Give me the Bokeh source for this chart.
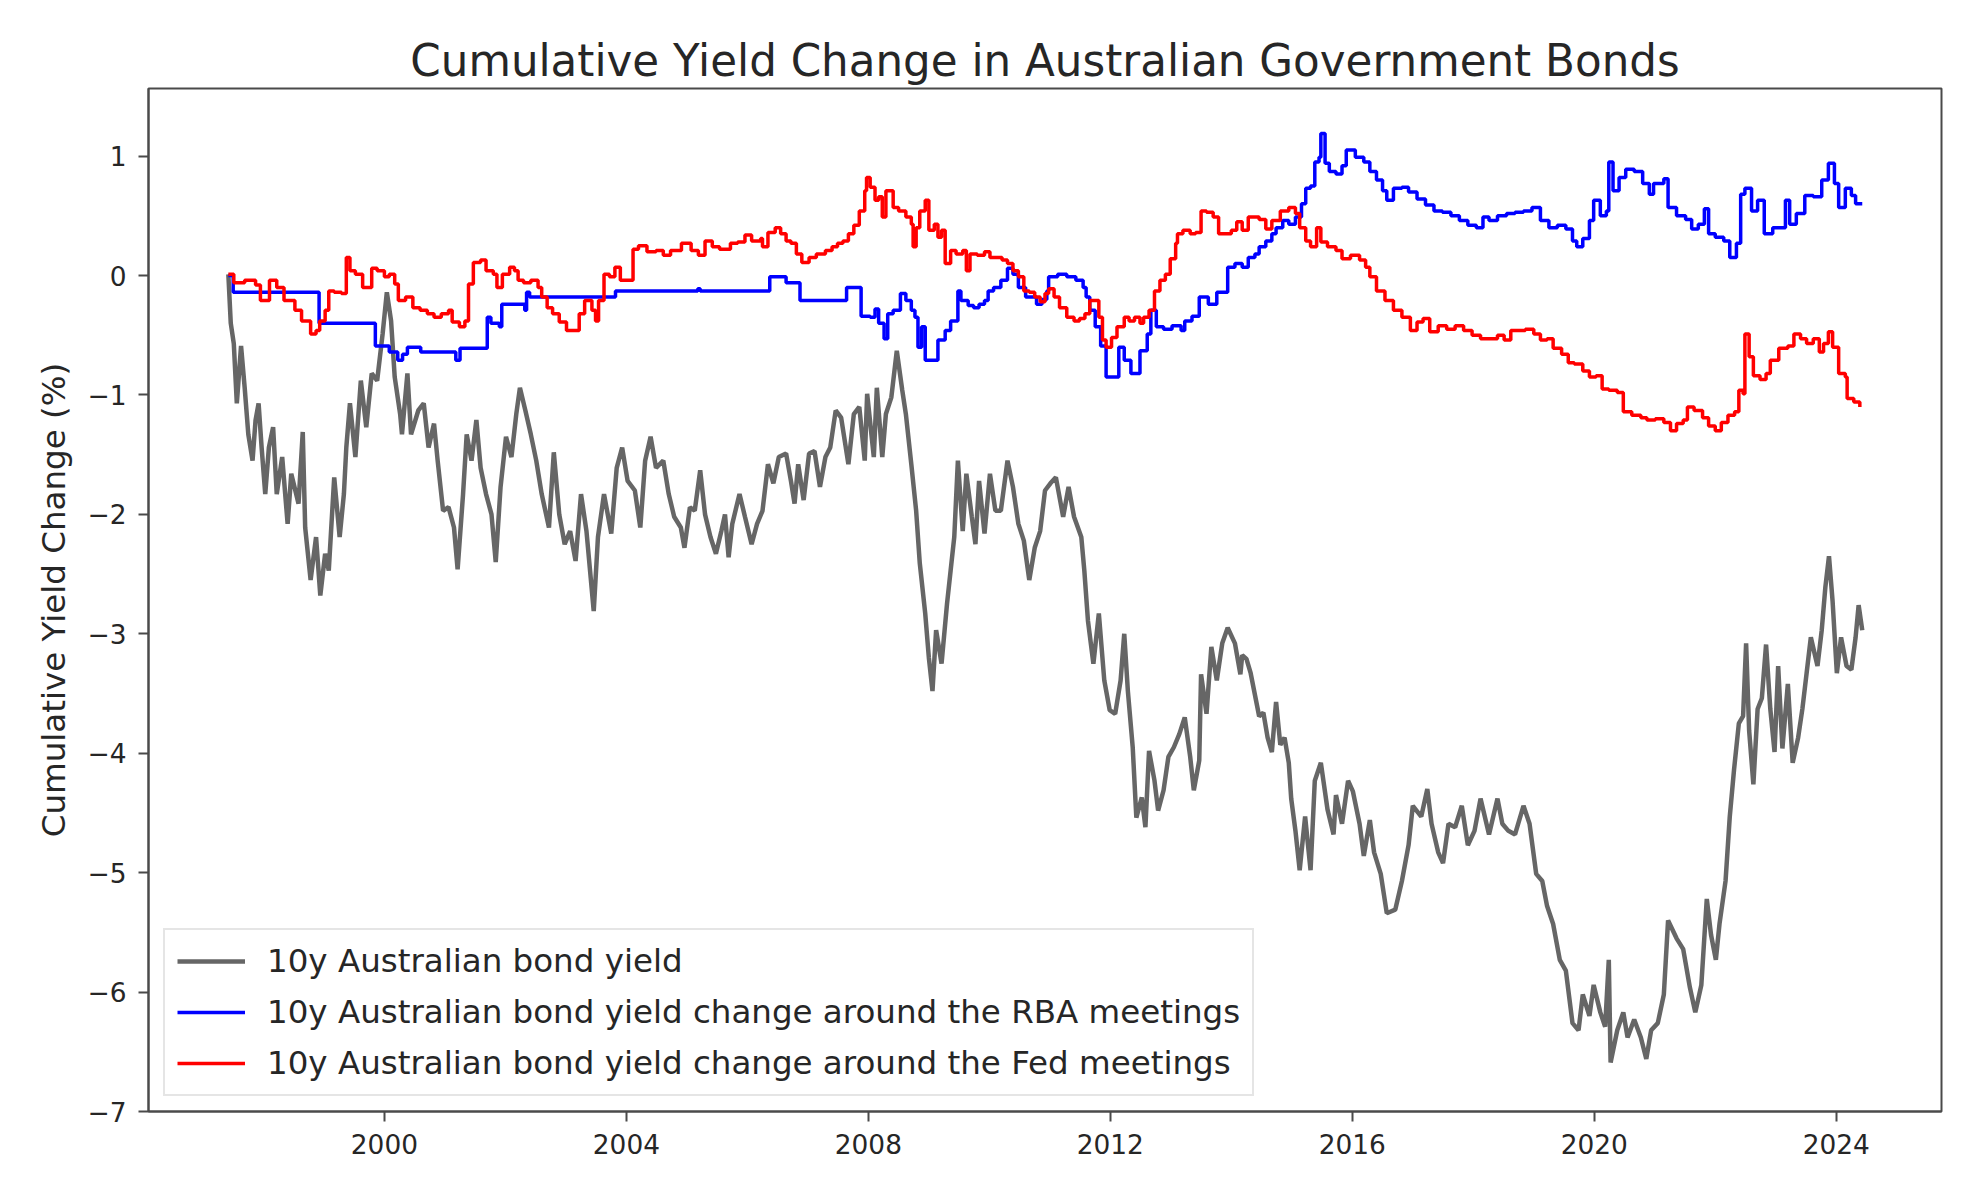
from bokeh.plotting import figure
from bokeh.models import FixedTicker, Range1d, Legend, LegendItem
from bokeh.embed import file_html
from bokeh.resources import INLINE

FONT = "DejaVu Sans"
TEXT = "#262626"
SPINE = "#4a4a4a"

# === Data === #
# 10y Australian bond yield, cumulative change (%)
gray_year = [
    1997.42, 1997.46, 1997.51, 1997.56, 1997.63, 1997.69, 1997.75, 1997.82, 1997.87, 1997.92,
    1997.97, 1998.03, 1998.09, 1998.16, 1998.22, 1998.31, 1998.40, 1998.46, 1998.58, 1998.65,
    1998.69, 1998.78, 1998.87, 1998.94, 1999.02, 1999.08, 1999.17, 1999.26, 1999.33, 1999.37,
    1999.43, 1999.52, 1999.61, 1999.70, 1999.79, 1999.88, 1999.97, 2000.04, 2000.11, 2000.17,
    2000.26, 2000.29, 2000.38, 2000.44, 2000.56, 2000.65, 2000.73, 2000.82, 2000.88, 2000.97,
    2001.06, 2001.15, 2001.21, 2001.30, 2001.36, 2001.44, 2001.52, 2001.59, 2001.68, 2001.77,
    2001.84, 2001.92, 2002.01, 2002.10, 2002.18, 2002.24, 2002.33, 2002.42, 2002.51, 2002.60,
    2002.72, 2002.80, 2002.89, 2002.98, 2003.07, 2003.16, 2003.25, 2003.34, 2003.46, 2003.53,
    2003.63, 2003.75, 2003.84, 2003.93, 2004.02, 2004.14, 2004.23, 2004.31, 2004.40, 2004.49,
    2004.61, 2004.70, 2004.79, 2004.90, 2004.96, 2005.05, 2005.13, 2005.22, 2005.30, 2005.39,
    2005.48, 2005.57, 2005.63, 2005.69, 2005.75, 2005.87, 2005.96, 2006.07, 2006.16, 2006.25,
    2006.34, 2006.43, 2006.52, 2006.64, 2006.72, 2006.78, 2006.84, 2006.93, 2007.02, 2007.11,
    2007.20, 2007.29, 2007.37, 2007.46, 2007.55, 2007.67, 2007.76, 2007.85, 2007.94, 2007.98,
    2008.09, 2008.14, 2008.23, 2008.29, 2008.38, 2008.47, 2008.56, 2008.62, 2008.71, 2008.79,
    2008.85, 2008.94, 2009.00, 2009.06, 2009.12, 2009.21, 2009.30, 2009.36, 2009.42, 2009.48,
    2009.56, 2009.62, 2009.71, 2009.77, 2009.83, 2009.92, 2010.01, 2010.10, 2010.19, 2010.30,
    2010.39, 2010.48, 2010.57, 2010.66, 2010.75, 2010.84, 2010.92, 2011.01, 2011.10, 2011.22,
    2011.31, 2011.40, 2011.52, 2011.57, 2011.63, 2011.72, 2011.81, 2011.90, 2011.99, 2012.08,
    2012.17, 2012.23, 2012.29, 2012.37, 2012.43, 2012.52, 2012.58, 2012.64, 2012.73, 2012.79,
    2012.88, 2012.96, 2013.05, 2013.14, 2013.23, 2013.32, 2013.38, 2013.47, 2013.50, 2013.59,
    2013.67, 2013.76, 2013.85, 2013.94, 2014.06, 2014.15, 2014.18, 2014.25, 2014.32, 2014.39,
    2014.46, 2014.53, 2014.60, 2014.67, 2014.74, 2014.81, 2014.88, 2014.95, 2014.99, 2015.06,
    2015.13, 2015.22, 2015.31, 2015.38, 2015.48, 2015.59, 2015.69, 2015.73, 2015.83, 2015.93,
    2016.01, 2016.12, 2016.19, 2016.29, 2016.36, 2016.47, 2016.57, 2016.71, 2016.82, 2016.93,
    2017.00, 2017.14, 2017.24, 2017.31, 2017.42, 2017.50, 2017.59, 2017.70, 2017.81, 2017.91,
    2018.02, 2018.12, 2018.26, 2018.40, 2018.48, 2018.58, 2018.69, 2018.83, 2018.93, 2019.04,
    2019.14, 2019.22, 2019.32, 2019.43, 2019.53, 2019.64, 2019.74, 2019.81, 2019.92, 2019.99,
    2020.10, 2020.18, 2020.24, 2020.27, 2020.38, 2020.48, 2020.55, 2020.66, 2020.77, 2020.86,
    2020.94, 2021.05, 2021.15, 2021.22, 2021.36, 2021.47, 2021.58, 2021.67, 2021.77, 2021.86,
    2021.93, 2022.01, 2022.07, 2022.17, 2022.24, 2022.31, 2022.39, 2022.46, 2022.51, 2022.56,
    2022.63, 2022.70, 2022.77, 2022.84, 2022.91, 2022.98, 2023.04, 2023.11, 2023.20, 2023.28,
    2023.37, 2023.44, 2023.51, 2023.58, 2023.69, 2023.76, 2023.82, 2023.88, 2023.94, 2024.01,
    2024.08, 2024.17, 2024.25, 2024.32, 2024.37, 2024.43,
]
gray_val = [
    0.01, -0.40, -0.57, -1.07, -0.59, -0.94, -1.33, -1.55, -1.21, -1.07,
    -1.44, -1.83, -1.44, -1.27, -1.83, -1.52, -2.08, -1.66, -1.91, -1.31,
    -2.11, -2.55, -2.19, -2.68, -2.33, -2.47, -1.69, -2.19, -1.83, -1.44,
    -1.07, -1.52, -0.88, -1.27, -0.82, -0.88, -0.49, -0.14, -0.38, -0.85,
    -1.16, -1.33, -0.82, -1.33, -1.13, -1.07, -1.44, -1.24, -1.55, -1.97,
    -1.94, -2.11, -2.46, -1.83, -1.33, -1.55, -1.21, -1.61, -1.83, -2.00,
    -2.40, -1.77, -1.35, -1.52, -1.16, -0.94, -1.13, -1.33, -1.55, -1.83,
    -2.11, -1.48, -2.00, -2.25, -2.14, -2.39, -1.83, -2.14, -2.81, -2.19,
    -1.83, -2.16, -1.61, -1.44, -1.72, -1.80, -2.11, -1.55, -1.35, -1.61,
    -1.55, -1.83, -2.02, -2.11, -2.28, -1.94, -1.97, -1.63, -2.00, -2.19,
    -2.33, -2.14, -2.00, -2.36, -2.08, -1.83, -2.02, -2.25, -2.08, -1.97,
    -1.58, -1.74, -1.52, -1.49, -1.72, -1.91, -1.58, -1.88, -1.49, -1.47,
    -1.77, -1.52, -1.44, -1.13, -1.19, -1.58, -1.16, -1.10, -1.55, -0.99,
    -1.52, -0.94, -1.52, -1.16, -1.02, -0.63, -0.96, -1.16, -1.58, -1.97,
    -2.41, -2.83, -3.20, -3.48, -2.97, -3.25, -2.75, -2.47, -2.19, -1.55,
    -2.14, -1.66, -2.02, -2.25, -1.72, -2.16, -1.66, -1.97, -1.97, -1.55,
    -1.77, -2.08, -2.22, -2.55, -2.28, -2.14, -1.80, -1.74, -1.69, -2.02,
    -1.77, -2.02, -2.19, -2.47, -2.89, -3.25, -2.83, -3.39, -3.64, -3.67,
    -3.39, -3.00, -3.48, -3.95, -4.54, -4.37, -4.62, -3.98, -4.23, -4.48,
    -4.31, -4.03, -3.95, -3.84, -3.70, -4.03, -4.31, -4.06, -3.34, -3.67,
    -3.11, -3.39, -3.08, -2.95, -3.08, -3.34, -3.18, -3.21, -3.33, -3.51,
    -3.69, -3.66, -3.87, -3.99, -3.57, -3.93, -3.87, -4.08, -4.38, -4.65,
    -4.98, -4.53, -4.98, -4.23, -4.08, -4.47, -4.68, -4.35, -4.59, -4.23,
    -4.32, -4.59, -4.86, -4.56, -4.83, -5.01, -5.34, -5.31, -5.07, -4.77,
    -4.44, -4.53, -4.30, -4.59, -4.83, -4.92, -4.59, -4.62, -4.44, -4.77,
    -4.65, -4.38, -4.68, -4.38, -4.59, -4.65, -4.68, -4.44, -4.59, -5.01,
    -5.07, -5.28, -5.43, -5.73, -5.82, -6.26, -6.32, -6.02, -6.20, -5.94,
    -6.17, -6.29, -5.73, -6.59, -6.32, -6.17, -6.38, -6.23, -6.38, -6.56,
    -6.32, -6.26, -6.02, -5.40, -5.55, -5.64, -5.96, -6.17, -5.94, -5.22,
    -5.52, -5.73, -5.43, -5.07, -4.53, -4.14, -3.75, -3.69, -3.08, -3.81,
    -4.26, -3.63, -3.54, -3.09, -3.63, -3.99, -3.27, -3.96, -3.42, -4.08,
    -3.87, -3.63, -3.33, -3.03, -3.27, -2.97, -2.61, -2.35, -2.73, -3.33,
    -3.03, -3.27, -3.30, -3.03, -2.76, -2.97,
]

# change around the RBA meetings (held until the next meeting)
rba_year = [
    1997.42, 1997.50, 1998.92, 1999.85, 2000.08, 2000.22, 2000.30, 2000.38, 2000.60, 2001.18,
    2001.25, 2001.70, 2001.76, 2001.90, 2001.94, 2002.32, 2002.35, 2002.40, 2003.82, 2005.18,
    2005.22, 2006.37, 2006.64, 2006.87, 2007.64, 2007.88, 2008.03, 2008.11, 2008.17, 2008.26,
    2008.32, 2008.41, 2008.53, 2008.62, 2008.71, 2008.77, 2008.82, 2008.88, 2008.94, 2009.15,
    2009.27, 2009.36, 2009.48, 2009.53, 2009.65, 2009.74, 2009.83, 2009.92, 2009.98, 2010.07,
    2010.19, 2010.30, 2010.39, 2010.48, 2010.60, 2010.69, 2010.78, 2010.87, 2010.95, 2010.98,
    2011.13, 2011.28, 2011.43, 2011.55, 2011.60, 2011.66, 2011.75, 2011.84, 2011.93, 2012.14,
    2012.23, 2012.34, 2012.49, 2012.61, 2012.67, 2012.76, 2012.88, 2013.02, 2013.17, 2013.23,
    2013.35, 2013.47, 2013.62, 2013.76, 2013.94, 2014.06, 2014.18, 2014.28, 2014.39, 2014.46,
    2014.57, 2014.67, 2014.74, 2014.85, 2014.95, 2015.06, 2015.16, 2015.23, 2015.31, 2015.38,
    2015.45, 2015.48, 2015.55, 2015.62, 2015.73, 2015.83, 2015.90, 2016.05, 2016.19, 2016.29,
    2016.40, 2016.50, 2016.57, 2016.68, 2016.82, 2016.93, 2017.07, 2017.21, 2017.35, 2017.49,
    2017.63, 2017.77, 2017.91, 2018.05, 2018.16, 2018.26, 2018.40, 2018.55, 2018.69, 2018.83,
    2018.97, 2019.11, 2019.25, 2019.39, 2019.53, 2019.64, 2019.71, 2019.81, 2019.92, 2019.99,
    2020.10, 2020.20, 2020.24, 2020.31, 2020.41, 2020.52, 2020.66, 2020.80, 2020.91, 2020.98,
    2021.08, 2021.15, 2021.22, 2021.36, 2021.51, 2021.61, 2021.72, 2021.82, 2021.89, 2022.00,
    2022.14, 2022.24, 2022.35, 2022.42, 2022.49, 2022.60, 2022.70, 2022.81, 2022.95, 2023.09,
    2023.16, 2023.23, 2023.34, 2023.48, 2023.62, 2023.76, 2023.87, 2023.97, 2024.04, 2024.15,
    2024.25, 2024.32, 2024.43,
]
rba_val = [
    0.00, -0.14, -0.40, -0.59, -0.64, -0.71, -0.66, -0.60, -0.64, -0.71,
    -0.61, -0.35, -0.40, -0.43, -0.24, -0.29, -0.14, -0.18, -0.13, -0.11,
    -0.13, -0.01, -0.06, -0.21, -0.10, -0.34, -0.35, -0.28, -0.40, -0.53,
    -0.32, -0.29, -0.15, -0.21, -0.29, -0.35, -0.60, -0.43, -0.71, -0.54,
    -0.46, -0.38, -0.13, -0.21, -0.25, -0.27, -0.24, -0.21, -0.13, -0.10,
    -0.04, 0.06, 0.01, -0.10, -0.18, -0.18, -0.24, -0.20, -0.13, -0.01,
    0.01, -0.01, -0.04, -0.10, -0.18, -0.29, -0.43, -0.59, -0.85, -0.60,
    -0.71, -0.82, -0.63, -0.49, -0.29, -0.43, -0.45, -0.42, -0.46, -0.38,
    -0.34, -0.18, -0.24, -0.14, 0.07, 0.10, 0.07, 0.15, 0.18, 0.24,
    0.29, 0.35, 0.40, 0.46, 0.43, 0.49, 0.60, 0.73, 0.75, 0.95,
    0.99, 1.19, 0.94, 0.87, 0.85, 0.92, 1.05, 0.99, 0.95, 0.87,
    0.80, 0.71, 0.63, 0.73, 0.74, 0.70, 0.64, 0.59, 0.54, 0.53,
    0.50, 0.46, 0.42, 0.40, 0.49, 0.46, 0.50, 0.52, 0.53, 0.54,
    0.57, 0.46, 0.40, 0.42, 0.39, 0.29, 0.24, 0.31, 0.46, 0.63,
    0.50, 0.54, 0.95, 0.71, 0.82, 0.89, 0.87, 0.77, 0.68, 0.77,
    0.77, 0.81, 0.57, 0.50, 0.47, 0.39, 0.43, 0.56, 0.35, 0.32,
    0.29, 0.15, 0.27, 0.68, 0.73, 0.54, 0.63, 0.35, 0.40, 0.40,
    0.63, 0.43, 0.52, 0.67, 0.66, 0.80, 0.94, 0.77, 0.57, 0.73,
    0.67, 0.60, 0.60,
]

# change around the Fed meetings (held until the next meeting)
fed_year = [
    1997.42, 1997.51, 1997.69, 1997.87, 1997.95, 1998.10, 1998.22, 1998.34, 1998.52, 1998.63,
    1998.78, 1998.87, 1998.93, 1999.02, 1999.08, 1999.17, 1999.29, 1999.37, 1999.43, 1999.52,
    1999.64, 1999.73, 1999.79, 1999.88, 2000.00, 2000.08, 2000.17, 2000.23, 2000.35, 2000.47,
    2000.59, 2000.71, 2000.82, 2000.94, 2001.06, 2001.12, 2001.24, 2001.33, 2001.39, 2001.47,
    2001.59, 2001.68, 2001.80, 2001.86, 2001.95, 2002.07, 2002.15, 2002.21, 2002.30, 2002.42,
    2002.54, 2002.60, 2002.69, 2002.78, 2002.89, 2003.01, 2003.16, 2003.22, 2003.31, 2003.43,
    2003.49, 2003.54, 2003.63, 2003.72, 2003.81, 2003.90, 2003.99, 2004.11, 2004.20, 2004.34,
    2004.49, 2004.61, 2004.73, 2004.91, 2005.07, 2005.19, 2005.30, 2005.42, 2005.54, 2005.72,
    2005.84, 2005.96, 2006.07, 2006.22, 2006.25, 2006.34, 2006.46, 2006.55, 2006.64, 2006.72,
    2006.81, 2006.90, 2007.02, 2007.14, 2007.29, 2007.40, 2007.49, 2007.58, 2007.67, 2007.76,
    2007.85, 2007.94, 2007.97, 2008.03, 2008.11, 2008.17, 2008.23, 2008.29, 2008.35, 2008.41,
    2008.50, 2008.62, 2008.71, 2008.74, 2008.79, 2008.85, 2008.94, 2008.97, 2009.00, 2009.09,
    2009.15, 2009.21, 2009.27, 2009.36, 2009.45, 2009.56, 2009.62, 2009.68, 2009.80, 2009.92,
    2010.01, 2010.10, 2010.21, 2010.30, 2010.39, 2010.48, 2010.57, 2010.66, 2010.75, 2010.84,
    2010.92, 2010.98, 2011.07, 2011.16, 2011.28, 2011.40, 2011.49, 2011.58, 2011.66, 2011.75,
    2011.81, 2011.87, 2011.93, 2012.02, 2012.11, 2012.23, 2012.31, 2012.40, 2012.49, 2012.55,
    2012.64, 2012.73, 2012.82, 2012.91, 2012.99, 2013.08, 2013.11, 2013.20, 2013.32, 2013.41,
    2013.50, 2013.59, 2013.70, 2013.79, 2013.88, 2014.00, 2014.09, 2014.18, 2014.28, 2014.46,
    2014.57, 2014.67, 2014.81, 2014.95, 2015.06, 2015.13, 2015.23, 2015.31, 2015.41, 2015.48,
    2015.59, 2015.73, 2015.83, 2015.97, 2016.12, 2016.22, 2016.29, 2016.40, 2016.54, 2016.68,
    2016.82, 2016.96, 2017.07, 2017.17, 2017.28, 2017.42, 2017.56, 2017.70, 2017.84, 2017.98,
    2018.12, 2018.26, 2018.40, 2018.51, 2018.62, 2018.76, 2018.86, 2019.00, 2019.11, 2019.22,
    2019.32, 2019.46, 2019.57, 2019.67, 2019.81, 2019.92, 2020.03, 2020.13, 2020.24, 2020.38,
    2020.48, 2020.62, 2020.77, 2020.87, 2021.01, 2021.15, 2021.26, 2021.36, 2021.47, 2021.54,
    2021.65, 2021.79, 2021.89, 2022.00, 2022.10, 2022.21, 2022.32, 2022.39, 2022.46, 2022.49,
    2022.56, 2022.63, 2022.74, 2022.84, 2022.91, 2023.05, 2023.20, 2023.30, 2023.41, 2023.51,
    2023.62, 2023.72, 2023.79, 2023.87, 2023.94, 2024.04, 2024.15, 2024.18, 2024.29, 2024.39,
]
fed_val = [
    0.01, -0.06, -0.04, -0.08, -0.21, -0.04, -0.10, -0.21, -0.29, -0.38,
    -0.49, -0.46, -0.38, -0.29, -0.13, -0.14, -0.15, 0.15, 0.04, 0.01,
    -0.10, -0.10, 0.06, 0.04, -0.01, 0.01, -0.07, -0.21, -0.18, -0.27,
    -0.29, -0.32, -0.35, -0.32, -0.29, -0.39, -0.43, -0.38, -0.07, 0.11,
    0.13, 0.04, 0.01, -0.10, 0.01, 0.07, 0.04, -0.04, -0.06, -0.04,
    -0.10, -0.18, -0.27, -0.32, -0.39, -0.46, -0.46, -0.32, -0.21, -0.29,
    -0.38, -0.21, 0.01, -0.01, 0.07, -0.04, -0.04, 0.22, 0.25, 0.20,
    0.21, 0.17, 0.21, 0.27, 0.21, 0.17, 0.29, 0.24, 0.22, 0.27,
    0.28, 0.34, 0.29, 0.31, 0.24, 0.36, 0.40, 0.35, 0.29, 0.27,
    0.18, 0.11, 0.15, 0.18, 0.21, 0.24, 0.27, 0.29, 0.35, 0.42,
    0.54, 0.71, 0.82, 0.74, 0.63, 0.66, 0.49, 0.71, 0.71, 0.57,
    0.54, 0.49, 0.43, 0.24, 0.40, 0.54, 0.63, 0.63, 0.38, 0.43,
    0.32, 0.38, 0.10, 0.21, 0.18, 0.21, 0.04, 0.18, 0.17, 0.20,
    0.15, 0.15, 0.13, 0.10, 0.04, -0.01, -0.13, -0.14, -0.18, -0.22,
    -0.15, -0.11, -0.18, -0.27, -0.35, -0.38, -0.36, -0.32, -0.21, -0.21,
    -0.35, -0.54, -0.60, -0.52, -0.43, -0.35, -0.38, -0.35, -0.40, -0.35,
    -0.29, -0.13, -0.04, 0.01, 0.14, 0.27, 0.35, 0.38, 0.35, 0.36,
    0.54, 0.53, 0.49, 0.35, 0.35, 0.38, 0.45, 0.38, 0.49, 0.47,
    0.39, 0.46, 0.54, 0.57, 0.52, 0.40, 0.29, 0.24, 0.40, 0.28,
    0.24, 0.21, 0.14, 0.17, 0.13, 0.07, -0.01, -0.13, -0.21, -0.29,
    -0.35, -0.46, -0.39, -0.36, -0.47, -0.42, -0.45, -0.42, -0.46, -0.50,
    -0.53, -0.53, -0.50, -0.54, -0.46, -0.46, -0.45, -0.49, -0.54, -0.53,
    -0.61, -0.66, -0.73, -0.74, -0.80, -0.85, -0.84, -0.95, -0.96, -0.98,
    -1.14, -1.17, -1.19, -1.21, -1.20, -1.23, -1.30, -1.24, -1.21, -1.10,
    -1.13, -1.19, -1.26, -1.30, -1.23, -1.17, -1.14, -0.96, -0.99, -0.49,
    -0.68, -0.84, -0.87, -0.82, -0.71, -0.61, -0.59, -0.49, -0.53, -0.57,
    -0.53, -0.64, -0.57, -0.47, -0.60, -0.82, -0.85, -1.03, -1.06, -1.10,
]

year_ticks = [2000, 2004, 2008, 2012, 2016, 2020, 2024]
value_ticks = [-7, -6, -5, -4, -3, -2, -1, 0, 1]

series_labels = [
    "10y Australian bond yield",
    "10y Australian bond yield change around the RBA meetings",
    "10y Australian bond yield change around the Fed meetings",
]

# === Figure === #
p = figure(width=1951, height=1177, output_backend="svg", toolbar_location=None,
           x_range=Range1d(1996.10, 2025.74), y_range=Range1d(-7.0, 1.566),
           min_border_left=148, min_border_right=10, min_border_top=88, min_border_bottom=66,
           title="Cumulative Yield Change in Australian Government Bonds")

p.title.text_font = FONT
p.title.text_font_size = "43.6px"
p.title.text_font_style = "normal"
p.title.text_color = TEXT
p.title.align = "center"
p.title.standoff = 6

p.xgrid.visible = False
p.ygrid.visible = False
p.outline_line_color = SPINE
p.outline_line_width = 2
p.background_fill_color = "white"

# === Axes === #
p.xaxis.ticker = FixedTicker(ticks=year_ticks)
p.xaxis.major_label_overrides = {t: str(t) for t in year_ticks}
p.yaxis.ticker = FixedTicker(ticks=value_ticks)
p.yaxis.major_label_overrides = {t: (str(t) if t >= 0 else "\u2212" + str(-t)) for t in value_ticks}
p.yaxis.axis_label = "Cumulative Yield Change (%)"
p.yaxis.axis_label_text_font = FONT
p.yaxis.axis_label_text_font_size = "32.5px"
p.yaxis.axis_label_text_font_style = "normal"
p.yaxis.axis_label_text_color = TEXT
p.yaxis.axis_label_standoff = 12

for ax in (p.xaxis, p.yaxis):
    ax.axis_line_color = SPINE
    ax.axis_line_width = 2
    ax.major_tick_line_color = SPINE
    ax.major_tick_line_width = 2
    ax.major_tick_in = 0
    ax.major_tick_out = 10
    ax.minor_tick_line_color = None
    ax.major_label_text_font = FONT
    ax.major_label_text_font_size = "26.4px"
    ax.major_label_text_color = TEXT
p.xaxis.major_label_standoff = 12
p.yaxis.major_label_standoff = 12

# === Lines === #
r_gray = p.line(gray_year, gray_val, line_color="#666666", line_width=4.5)
r_rba = p.step(rba_year, rba_val, mode="after", line_color="blue", line_width=3.5)
r_fed = p.step(fed_year, fed_val, mode="after", line_color="red", line_width=3.5)

legend = Legend(
    items=[LegendItem(label=lab, renderers=[r]) for lab, r in zip(series_labels, [r_gray, r_rba, r_fed])],
    location="bottom_left", margin=15, padding=12, spacing=13,
    glyph_width=68, glyph_height=38, label_height=38, label_standoff=22,
    label_text_font=FONT, label_text_font_size="32.5px", label_text_color=TEXT,
    border_line_color="#cccccc", border_line_width=2, background_fill_alpha=0.8)
p.add_layout(legend)

open("out.html", "w").write(file_html(p, INLINE))
